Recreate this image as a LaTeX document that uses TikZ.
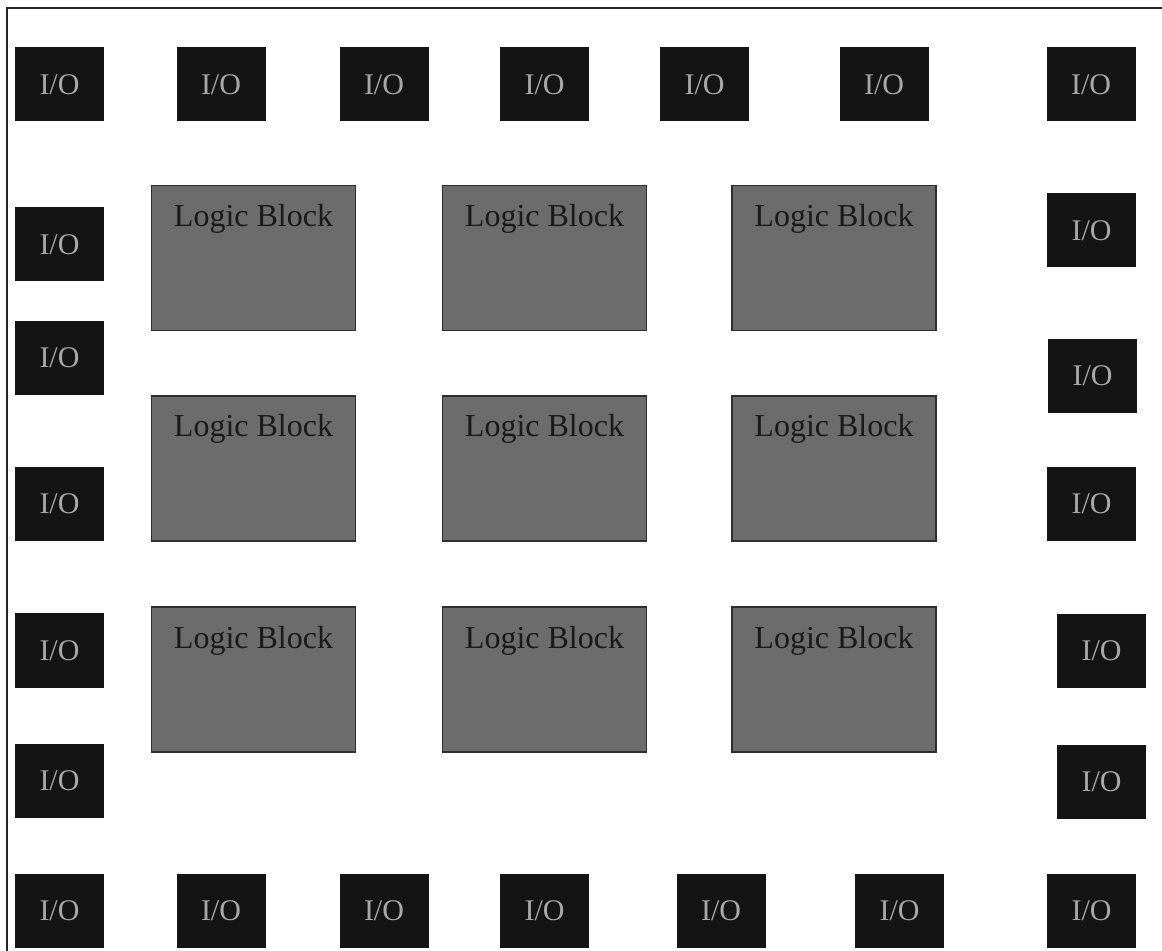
\documentclass[tikz,border=0pt]{standalone}
\usepackage{fontspec}
\setmainfont{Liberation Serif}
\usepackage{xcolor}
\usepackage{tikz}
\definecolor{padblack}{HTML}{141414}
\definecolor{padtext}{HTML}{A8A8A8}
\definecolor{blockgray}{HTML}{6C6C6C}
\definecolor{blockedge}{HTML}{2E2E2E}
\definecolor{blocktext}{HTML}{1A1A1A}

\begin{document}
\begin{tikzpicture}[
  x=0.5pt, y=-0.5pt,
  io/.style   ={fill=padblack, text=padtext, inner sep=0pt,
                minimum width=44.5pt, minimum height=37pt,
                font=\fontsize{15}{15}\selectfont},
  lb/.style   ={fill=blockgray, draw=blockedge, line width=0.8pt,
                text=blocktext, inner sep=0pt, minimum width=102pt,
                text height=20.5pt, text depth=52pt,
                font=\fontsize{16}{16}\selectfont},
  frame/.style={draw=black!85, line width=1pt}]

\useasboundingbox (0,0) rectangle (1162,951);

% the page edge, only the top and the left side show
\coordinate (fc) at (7,8);
\coordinate (fr) at (1162,8);
\coordinate (fb) at (7,951);
\draw[frame] (fr) -- (fc) -- (fb);

% ----------------------------- I/O pads ------------------------------
\foreach \x [count=\i] in {59.5,221,384,544.5,704.5,884,1091}
  \node[io] (top\i) at (\x,84.5) {I/O};
\foreach \x [count=\i] in {59.5,221,384,544.5,721,899.5,1091.5}
  \node[io] (bot\i) at (\x,910.5) {I/O};
\foreach \y [count=\i] in {244.5,358,504,650.5,780.5}
  \node[io] (left\i) at (59.5,\y) {I/O};
\node[io] (right1) at (1091.5,230.5) {I/O};
\node[io] (right2) at (1092.5,376) {I/O};
\node[io] (right3) at (1091.5,504) {I/O};
\node[io] (right4) at (1101.5,651) {I/O};
\node[io] (right5) at (1101.5,782) {I/O};

% --------------------------- logic blocks ----------------------------
\foreach \y [count=\r] in {258,468.5,679.5}{\foreach \x [count=\c] in {253.5,544.5,834}{%
  \node[lb] (lb\r\c) at (\x,\y) {Logic Block};}}

\end{tikzpicture}
\end{document}
